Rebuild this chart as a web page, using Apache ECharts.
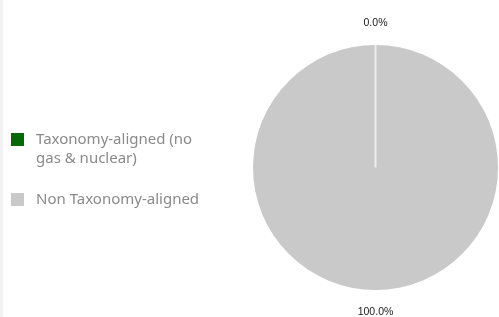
<!DOCTYPE html>
<html>
<head>
<meta charset="utf-8">
<script src="https://cdn.jsdelivr.net/npm/echarts@6/dist/echarts.min.js"></script>
<style>
html, body { margin: 0; padding: 0; background: #fff; }
#strip { position: absolute; left: 0; top: 0; width: 3px; height: 317px; background: #f2f2f2; }
#chart { position: absolute; left: 0; top: 0; width: 499px; height: 317px; }
</style>
</head>
<body>
<div id="strip"></div>
<div id="chart"></div>
<script>
// data
const categories = ['Taxonomy-aligned (no gas & nuclear)', 'Non Taxonomy-aligned']
const legendLabels = ['Taxonomy-aligned (no\ngas & nuclear)', 'Non Taxonomy-aligned']
const shares = [0.0, 100.0]
const colors = ['#066806', '#c9c9c9']

const center = [375.5, 167.5]
const radius = 122.5
const startAngle = 90

const myChart = echarts.init(document.getElementById('chart'))

// slice boundary after the first (zero) slice, drawn as the thin white divider
const total = shares.reduce((a, b) => a + b, 0)
const boundary = (startAngle - 360 * shares[0] / total) * Math.PI / 180

// legend text is centred on the icon, so a wrapped label gets blank lines
// above it to keep its first line level with the square
const legendText = (label) => {
  const n = label.split('\n').length
  return '\n'.repeat(n - 1) + label
}

const option = {
  animation: false,
  color: colors,
  legend: {
    orient: 'vertical',
    left: 11,
    top: 111,
    padding: 0,
    itemGap: 22,
    itemWidth: 13,
    itemHeight: 13,
    icon: 'rect',
    selectedMode: false,
    textStyle: {
      color: '#8a8a8a',
      fontSize: 15,
      lineHeight: 19,
      fontFamily: 'Noto Sans',
      padding: [0, 0, 0, 7]
    },
    data: categories,
    formatter: (name) => legendText(legendLabels[categories.indexOf(name)])
  },
  series: [{
    type: 'pie',
    center: center,
    radius: radius,
    startAngle: startAngle,
    clockwise: true,
    avoidLabelOverlap: false,
    data: categories.map((name, i) => ({ name, value: shares[i] })),
    itemStyle: { borderWidth: 0 },
    label: {
      show: true,
      position: 'outside',
      formatter: (p) => p.value.toFixed(1) + '%',
      color: '#1a1a1a',
      fontSize: 10.5,
      fontFamily: 'Liberation Sans',
      distanceToLabelLine: 0
    },
    labelLine: { show: false, length: 22, length2: 0 },
    labelLayout: () => ({ align: 'center', verticalAlign: 'middle' }),
    emphasis: { disabled: true }
  }],
  graphic: [{
    type: 'line',
    silent: true,
    z: 100,
    shape: {
      x1: center[0],
      y1: center[1],
      x2: center[0] + radius * Math.cos(boundary),
      y2: center[1] - radius * Math.sin(boundary)
    },
    style: { stroke: '#ededed', lineWidth: 2 }
  }]
}

myChart.setOption(option)
window.addEventListener('resize', () => myChart.resize())
</script>
</body>
</html>
